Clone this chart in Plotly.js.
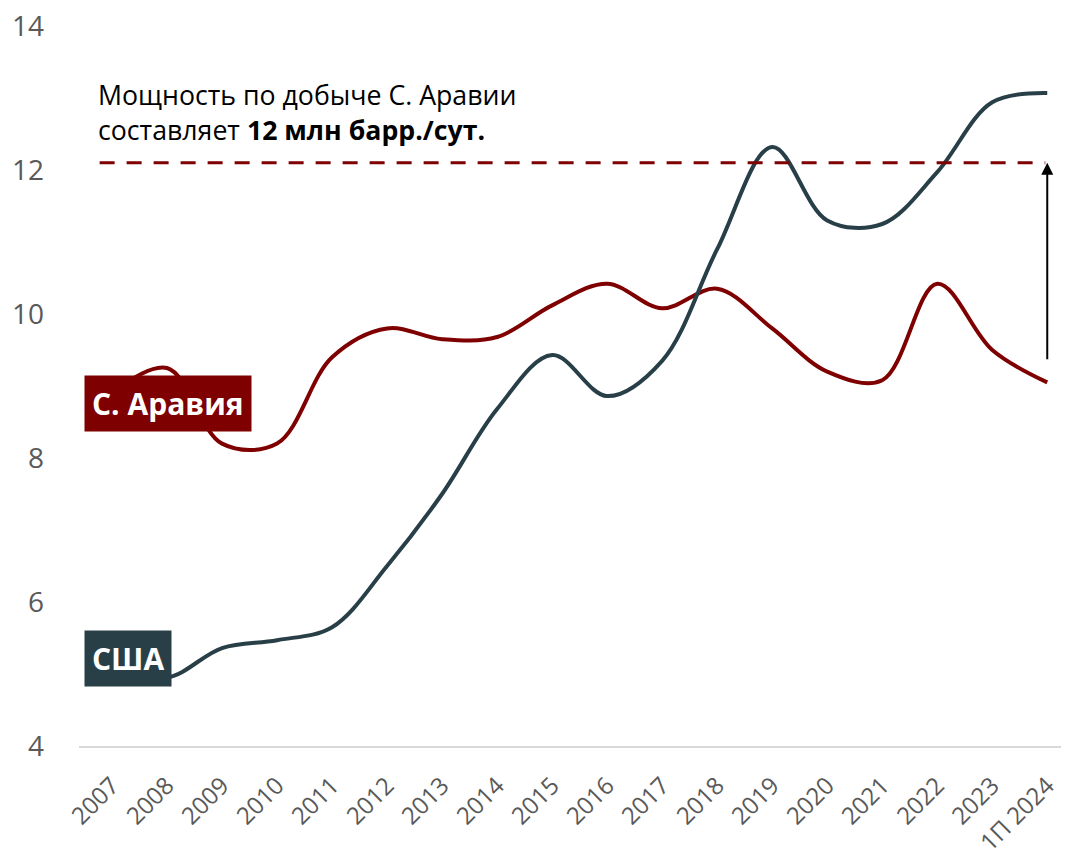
<!DOCTYPE html>
<html>
<head>
<meta charset="utf-8">
<script src="https://cdn.plot.ly/plotly-3.0.1.min.js"></script>
<style>html,body{margin:0;padding:0;background:#fff;}#chart{width:1068px;height:862px;}</style>
</head>
<body>
<div id="chart"></div>
<script>
const years = ["2007","2008","2009","2010","2011","2012","2013","2014","2015","2016","2017","2018","2019","2020","2021","2022","2023","1П 2024"];
const saudi = [8.9, 9.25, 8.2, 8.2, 9.4, 9.8, 9.65, 9.68, 10.12, 10.42, 10.08, 10.35, 9.8, 9.2, 9.08, 10.42, 9.5, 9.05];
const usa   = [5.1, 4.95, 5.36, 5.47, 5.65, 6.5, 7.5, 8.68, 9.43, 8.86, 9.35, 10.9, 12.32, 11.3, 11.25, 11.97, 12.94, 13.07];
const capacity = 12.1;
const arrowBase = 9.35;
const seriesNames = ["С. Аравия", "США"];
const noteText = "Мощность по добыче С. Аравии<br>составляет <b>12 млн барр./сут.</b>";

const red = "#7f0000";
const slate = "#283f48";

const traces = [
  {x: years, y: saudi, type: "scatter", mode: "lines", name: seriesNames[0],
   line: {color: red, width: 4, shape: "spline", smoothing: 1}},
  {x: years, y: usa, type: "scatter", mode: "lines", name: seriesNames[1],
   line: {color: slate, width: 4, shape: "spline", smoothing: 1}}
];

const layout = {
  width: 1068, height: 862,
  margin: {l: 79, r: 7, t: 26, b: 116},
  paper_bgcolor: "#fff", plot_bgcolor: "#fff",
  showlegend: false,
  font: {family: "Open Sans, sans-serif", color: "#595959"},
  xaxis: {
    type: "category", range: [-0.6, 17.25],
    showgrid: false, zeroline: false,
    showline: true, linecolor: "#d9d9d9", linewidth: 2,
    tickangle: -45, tickfont: {size: 24, color: "#595959"},
    ticklabelstandoff: 14,
    ticks: "", fixedrange: true
  },
  yaxis: {
    range: [4, 14], tickvals: [4, 6, 8, 10, 12, 14],
    showgrid: false, zeroline: false, showline: false,
    tickfont: {size: 28, color: "#595959"},
    ticklabelstandoff: 34, fixedrange: true
  },
  shapes: [
    {type: "line", xref: "paper", yref: "y", x0: 0.021, x1: 0.984, y0: capacity, y1: capacity,
     line: {color: red, width: 3, dash: "15px,12px"}}
  ],
  annotations: [
    {xref: "x", yref: "y", axref: "x", ayref: "y",
     x: years.length - 1, y: capacity, ax: years.length - 1, ay: arrowBase,
     showarrow: true, arrowhead: 2, arrowsize: 1.2, arrowwidth: 2, arrowcolor: "#000", text: ""},
    {xref: "paper", yref: "y", x: 0.017, y: 12.8, xanchor: "left", yanchor: "middle", align: "left",
     showarrow: false, text: noteText, font: {size: 26.7, color: "#000"}},
    {xref: "paper", yref: "y", x: 0.005, y: 8.76, xanchor: "left", yanchor: "middle",
     showarrow: false, text: "<b>" + seriesNames[0] + "</b>", bgcolor: red, borderpad: 7,
     font: {size: 30, color: "#fff"}},
    {xref: "paper", yref: "y", x: 0.005, y: 5.22, xanchor: "left", yanchor: "middle",
     showarrow: false, text: "<b>" + seriesNames[1] + "</b>", bgcolor: slate, borderpad: 7,
     font: {size: 30, color: "#fff"}}
  ]
};

Plotly.newPlot("chart", traces, layout, {displayModeBar: false, staticPlot: true});
</script>
</body>
</html>
